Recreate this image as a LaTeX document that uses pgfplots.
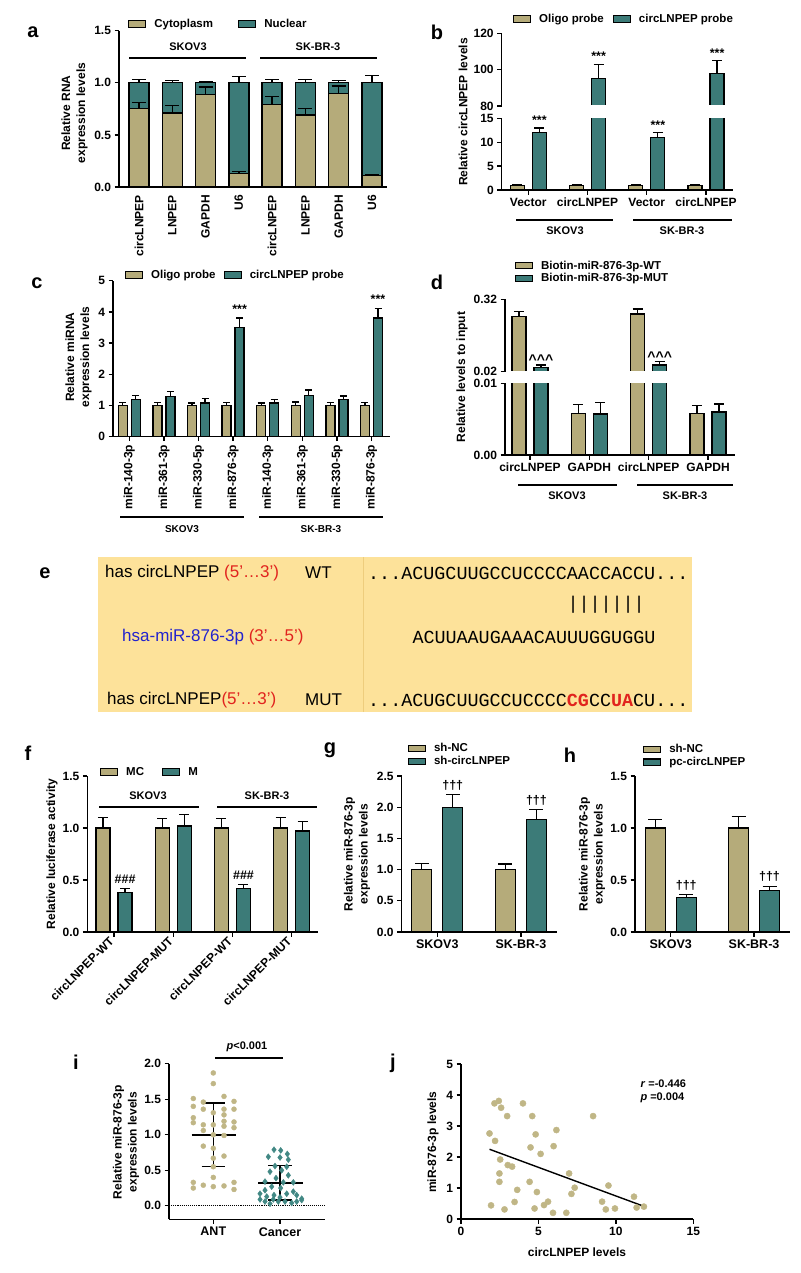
\documentclass[border=0pt]{standalone}
\usepackage{fontspec}
\setmainfont{Liberation Sans}
\newfontfamily\seqfont{Liberation Mono}
\usepackage{pgfplots}
\pgfplotsset{compat=1.18}

\definecolor{ctan}{RGB}{181,171,122}
\definecolor{cteal}{RGB}{60,123,120}
\definecolor{dtan}{RGB}{192,182,134}
\definecolor{dteal}{RGB}{66,136,132}
\definecolor{boxfill}{RGB}{253,226,154}
\definecolor{boxline}{RGB}{238,205,125}
\definecolor{sred}{RGB}{225,35,30}
\definecolor{sblue}{RGB}{35,35,205}

\newcommand{\tkf}{\bfseries\fontsize{12}{12}\selectfont}
\newcommand{\lgf}{\bfseries\fontsize{11.5}{12}\selectfont}
\newcommand{\lbf}{\bfseries\fontsize{12}{15}\selectfont}
\newcommand{\plf}{\bfseries\fontsize{20}{20}\selectfont}
\newcommand{\grf}{\bfseries\fontsize{11}{12}\selectfont}
\newcommand{\stf}{\bfseries\fontsize{12.5}{12}\selectfont}

\pgfplotsset{
  prism/.style={
    scale only axis, anchor=south west, axis lines=left,
    axis line style={-, line width=1.3pt, black},
    every outer x axis line/.append style={-},
    every outer y axis line/.append style={-},
    tick align=outside, major tick length=4.5pt,
    every tick/.append style={black, line width=1.3pt},
    tick label style={font=\tkf},
    scaled y ticks=false, scaled x ticks=false,
    legend style={draw=none, fill=none, font=\lgf, inner sep=0pt, outer sep=0pt,
      anchor=west, cells={anchor=west}, nodes={inner sep=0pt},
      /tikz/every odd column/.append style={column sep=8pt},
      /tikz/row sep=3pt},
    legend image code/.code={\draw[##1, draw=black, line width=1.2pt] (0pt,-3.2pt) rectangle (17pt,3.2pt);},
  },
  pbar/.style={ybar, bar shift=0pt, draw=black, line width=1.3pt,
    error bars/y dir=plus, error bars/y explicit,
    error bars/error bar style={line width=1.3pt, black},
    error bars/error mark options={rotate=90, line width=1.3pt, black, mark size=#1}},
}

\begin{document}
\begin{tikzpicture}
\path[use as bounding box] (0pt,0pt) rectangle (800pt,-1273pt);

% ---------------- panel a ----------------
\begin{axis}[prism, at={(119pt,-187pt)}, width=268pt, height=156.3pt,
  xmin=-0.6, xmax=7.45, ymin=0, ymax=1.5,
  ytick={0,0.5,1,1.5}, yticklabels={0.0,0.5,1.0,1.5},
  xtick={0,1,2,3,4,5,6,7},
  xticklabels={circLNPEP,LNPEP,GAPDH,U6,circLNPEP,LNPEP,GAPDH,U6},
  xticklabel style={rotate=90, anchor=east},
  xtick style={draw=none}, clip=false,
  legend columns=2,
  legend style={at={(axis description cs:0.034,1.043)},
    /tikz/every even column/.append style={column sep=25pt}}]
\addlegendimage{fill=ctan}\addlegendentry{Cytoplasm}
\addlegendimage{fill=cteal}\addlegendentry{Nuclear}
% stacked total (cytoplasm + nuclear = 1)
\addplot[pbar=7pt, bar width=20pt, fill=cteal, forget plot] coordinates {
 (0,1) +- (0,0.03) (1,1) +- (0,0.02) (2,1) +- (0,0.01) (3,1) +- (0,0.06)
 (4,1) +- (0,0.03) (5,1) +- (0,0.03) (6,1) +- (0,0.02) (7,1) +- (0,0.07)};
% cytoplasm fraction
\addplot[pbar=7pt, bar width=20pt, fill=ctan, forget plot] coordinates {
 (0,0.75) +- (0,0.06) (1,0.71) +- (0,0.07) (2,0.89) +- (0,0.07) (3,0.13) +- (0,0.02)
 (4,0.79) +- (0,0.08) (5,0.69) +- (0,0.06) (6,0.90) +- (0,0.07) (7,0.11) +- (0,0.01)};
\end{axis}

% ---------------- panel b (broken axis) ----------------
\begin{axis}[prism, at={(501.7pt,-106pt)}, width=231.3pt, height=72.7pt,
  xmin=-0.449, xmax=3.455, ymin=80, ymax=120,
  ytick={80,100,120}, yticklabels={80,100,120},
  axis x line=none, clip mode=individual,
  legend columns=2,
  legend style={at={(axis description cs:0.049,1.197)},
    /tikz/every even column/.append style={column sep=9pt}}]
\addlegendimage{fill=ctan}\addlegendentry{Oligo probe}
\addlegendimage{fill=cteal}\addlegendentry{circLNPEP probe}
\addplot[pbar=5pt, bar width=14pt, fill=cteal, forget plot] coordinates {
 (1.186,95) +- (0,8) (3.186,98) +- (0,7)};
\node[font=\stf, anchor=south] at (axis cs:1.186,103) {***};
\node[font=\stf, anchor=south] at (axis cs:3.186,105) {***};
\end{axis}
% axis break gap
\fill[white] (503.5pt,-105pt) rectangle (736pt,-117.6pt);
\begin{axis}[prism, at={(501.7pt,-190pt)}, width=231.3pt, height=71.7pt,
  xmin=-0.449, xmax=3.455, ymin=0, ymax=15,
  ytick={0,5,10,15}, yticklabels={0,5,10,15},
  xtick={0,1,2,3}, xticklabels={Vector,circLNPEP,Vector,circLNPEP},
  clip mode=individual]
\addplot[pbar=5pt, bar width=14pt, fill=ctan] coordinates {
 (-0.186,1) +- (0,0.15) (0.814,1) +- (0,0.15) (1.814,1) +- (0,0.15) (2.814,1) +- (0,0.15)};
\addplot[pbar=5pt, bar width=14pt, fill=cteal] coordinates {
 (0.186,12) +- (0,1) (1.186,95) +- (0,8) (2.186,11) +- (0,1) (3.186,98) +- (0,7)};
\node[font=\stf, anchor=south] at (axis cs:0.186,13) {***};
\node[font=\stf, anchor=south] at (axis cs:2.186,12) {***};
\end{axis}

% ---------------- panel c ----------------
\begin{axis}[prism, at={(113pt,-436.7pt)}, width=277pt, height=156pt,
  xmin=-0.471, xmax=7.535, ymin=0, ymax=5,
  ytick={0,1,2,3,4,5}, yticklabels={0,1,2,3,4,5},
  xtick={0,1,2,3,4,5,6,7},
  xticklabels={miR-140-3p,miR-361-3p,miR-330-5p,miR-876-3p,miR-140-3p,miR-361-3p,miR-330-5p,miR-876-3p},
  xticklabel style={rotate=90, anchor=east}, clip=false,
  legend columns=2,
  legend style={at={(axis description cs:0.043,1.037)},
    /tikz/every even column/.append style={column sep=8pt}}]
\addlegendimage{fill=ctan}\addlegendentry{Oligo probe}
\addlegendimage{fill=cteal}\addlegendentry{circLNPEP probe}
\addplot[pbar=3.5pt, bar width=9pt, fill=ctan, forget plot] coordinates {
 (-0.188,1) +- (0,0.1) (0.812,1) +- (0,0.09) (1.812,1) +- (0,0.08) (2.812,1) +- (0,0.09)
 (3.812,1) +- (0,0.08) (4.812,1) +- (0,0.11) (5.812,1) +- (0,0.09) (6.812,1) +- (0,0.09)};
\addplot[pbar=3.5pt, bar width=9pt, fill=cteal, forget plot] coordinates {
 (0.188,1.2) +- (0,0.13) (1.188,1.28) +- (0,0.17) (2.188,1.08) +- (0,0.14) (3.188,3.5) +- (0,0.3)
 (4.188,1.08) +- (0,0.12) (5.188,1.33) +- (0,0.17) (6.188,1.2) +- (0,0.1) (7.188,3.8) +- (0,0.3)};
\node[font=\stf, anchor=south] at (axis cs:3.188,3.85) {***};
\node[font=\stf, anchor=south] at (axis cs:7.188,4.15) {***};
\end{axis}

% ---------------- panel d (broken axis) ----------------
\begin{axis}[prism, at={(505pt,-371.7pt)}, width=230pt, height=72.4pt,
  xmin=-0.42, xmax=3.455, ymin=0.02, ymax=0.32,
  ytick={0.02,0.32}, yticklabels={0.02,0.32},
  axis x line=none, clip mode=individual,
  legend style={at={(axis description cs:0.043,1.377)}}]
\addlegendimage{fill=ctan}\addlegendentry{Biotin-miR-876-3p-WT}
\addlegendimage{fill=cteal}\addlegendentry{Biotin-miR-876-3p-MUT}
\addplot[pbar=5pt, bar width=14pt, fill=ctan, forget plot] coordinates {
 (-0.186,0.248) +- (0,0.021) (1.814,0.259) +- (0,0.021)};
\addplot[pbar=5pt, bar width=14pt, fill=cteal, forget plot] coordinates {
 (0.186,0.038) +- (0,0.0097) (2.186,0.0477) +- (0,0.0138)};
\node[font=\bfseries\fontsize{14}{14}\selectfont, anchor=south, yshift=-3pt] at (axis cs:0.186,0.0477) {\textasciicircum\textasciicircum\textasciicircum};
\node[font=\bfseries\fontsize{14}{14}\selectfont, anchor=south, yshift=-3pt] at (axis cs:2.186,0.0615) {\textasciicircum\textasciicircum\textasciicircum};
\end{axis}
\fill[white] (506.8pt,-370.8pt) rectangle (738pt,-382.6pt);
\begin{axis}[prism, at={(505pt,-455pt)}, width=230pt, height=71.7pt,
  xmin=-0.42, xmax=3.455, ymin=0, ymax=0.01,
  ytick={0,0.01}, yticklabels={0.00,0.01},
  xtick={0,1,2,3}, xticklabels={circLNPEP,GAPDH,circLNPEP,GAPDH},
  clip mode=individual]
\addplot[pbar=5pt, bar width=14pt, fill=ctan] coordinates {
 (-0.186,0.248) +- (0,0.021) (0.814,0.0058) +- (0,0.0012) (1.814,0.259) +- (0,0.021) (2.814,0.0058) +- (0,0.0011)};
\addplot[pbar=5pt, bar width=14pt, fill=cteal] coordinates {
 (0.186,0.038) +- (0,0.0097) (1.186,0.0057) +- (0,0.0016) (2.186,0.0477) +- (0,0.0138) (3.186,0.006) +- (0,0.0011)};
\end{axis}

% ---------------- panel f ----------------
\begin{axis}[prism, at={(87.3pt,-932pt)}, width=230.7pt, height=156pt,
  xmin=-0.451, xmax=3.444, ymin=0, ymax=1.5,
  ytick={0,0.5,1,1.5}, yticklabels={0.0,0.5,1.0,1.5},
  xtick={0,1,2,3}, xticklabels={circLNPEP-WT,circLNPEP-MUT,circLNPEP-WT,circLNPEP-MUT},
  xticklabel style={rotate=45, anchor=east}, clip=false,
  legend columns=2,
  legend style={at={(axis description cs:0.055,1.026)},
    /tikz/every even column/.append style={column sep=18pt}}]
\addlegendimage{fill=ctan}\addlegendentry{MC}
\addlegendimage{fill=cteal}\addlegendentry{M}
\addplot[pbar=5pt, bar width=14pt, fill=ctan, forget plot] coordinates {
 (-0.186,1) +- (0,0.1) (0.814,1) +- (0,0.09) (1.814,1) +- (0,0.09) (2.814,1) +- (0,0.1)};
\addplot[pbar=5pt, bar width=14pt, fill=cteal, forget plot] coordinates {
 (0.186,0.38) +- (0,0.04) (1.186,1.02) +- (0,0.11) (2.186,0.42) +- (0,0.04) (3.186,0.97) +- (0,0.09)};
\node[font=\stf, anchor=south] at (axis cs:0.186,0.43) {\#\#\#};
\node[font=\stf, anchor=south] at (axis cs:2.186,0.47) {\#\#\#};
\end{axis}

% ---------------- panel g ----------------
\begin{axis}[prism, at={(401.7pt,-932pt)}, width=155pt, height=156pt,
  xmin=-0.425, xmax=1.427, ymin=0, ymax=2.5,
  ytick={0,0.5,1,1.5,2,2.5}, yticklabels={0.0,0.5,1.0,1.5,2.0,2.5},
  xtick={0,1}, xticklabels={SKOV3,SK-BR-3},
  xticklabel style={font=\bfseries\fontsize{12.5}{12.5}\selectfont},
  clip=false,
  legend style={at={(axis description cs:0.04,1.135)}}]
\addlegendimage{fill=ctan}\addlegendentry{sh-NC}
\addlegendimage{fill=cteal}\addlegendentry{sh-circLNPEP}
\addplot[pbar=7pt, bar width=20pt, fill=ctan, forget plot] coordinates {
 (-0.185,1) +- (0,0.1) (0.815,1) +- (0,0.09)};
\addplot[pbar=7pt, bar width=20pt, fill=cteal, forget plot] coordinates {
 (0.185,2.0) +- (0,0.2) (1.185,1.8) +- (0,0.16)};
\node[font=\stf, anchor=south] at (axis cs:0.185,2.22) {†††};
\node[font=\stf, anchor=south] at (axis cs:1.185,1.98) {†††};
\end{axis}

% ---------------- panel h ----------------
\begin{axis}[prism, at={(635pt,-932pt)}, width=155pt, height=156pt,
  xmin=-0.429, xmax=1.432, ymin=0, ymax=1.5,
  ytick={0,0.5,1,1.5}, yticklabels={0.0,0.5,1.0,1.5},
  xtick={0,1}, xticklabels={SKOV3,SK-BR-3},
  xticklabel style={font=\bfseries\fontsize{12.5}{12.5}\selectfont},
  clip=false,
  legend style={at={(axis description cs:0.052,1.13)}}]
\addlegendimage{fill=ctan}\addlegendentry{sh-NC}
\addlegendimage{fill=cteal}\addlegendentry{pc-circLNPEP}
\addplot[pbar=7pt, bar width=20pt, fill=ctan, forget plot] coordinates {
 (-0.186,1) +- (0,0.08) (0.814,1) +- (0,0.11)};
\addplot[pbar=7pt, bar width=20pt, fill=cteal, forget plot] coordinates {
 (0.186,0.33) +- (0,0.03) (1.186,0.40) +- (0,0.04)};
\node[font=\stf, anchor=south] at (axis cs:0.186,0.37) {†††};
\node[font=\stf, anchor=south] at (axis cs:1.186,0.45) {†††};
\end{axis}

% ---------------- panel i ----------------
\begin{axis}[prism, at={(169pt,-1219.3pt)}, width=156pt, height=155.6pt,
  xmin=0, xmax=156, ymin=-0.19, ymax=2.0,
  ytick={0,0.5,1,1.5,2}, yticklabels={0.0,0.5,1.0,1.5,2.0},
  xtick={44.3,111}, xticklabels={ANT,Cancer},
  xticklabel style={font=\bfseries\fontsize{12.5}{12.5}\selectfont},
  clip=false]
\addplot[densely dotted, line width=1.1pt, black] coordinates {(0,0) (156,0)};
\addplot[only marks, mark=*, mark size=2.5pt, mark options={draw=dtan, fill=dtan}] coordinates {
 (44.3,1.87) (44.3,1.72) (24.3,1.51) (55,1.54) (65,1.47) (24.3,1.40) (34.3,1.36) (65,1.36)
 (44.3,1.31) (55,1.28) (24.3,1.24) (24.3,1.17) (65,1.18) (55,1.19) (34.3,1.14) (44.3,1.14)
 (55,1.12) (65,1.10) (34.3,1.06) (44.3,1.0) (55,0.99) (34.3,0.84) (44.3,0.81) (55,0.70)
 (44.3,0.67) (44.3,0.55) (44.3,0.40) (24.3,0.33) (24.3,0.25) (34.3,0.29) (44.3,0.27)
 (55,0.28) (65,0.33) (65,0.23) (34.3,1.46) (55,1.36)};
\addplot[only marks, mark=diamond*, mark size=3pt, mark options={draw=dteal, fill=dteal}] coordinates {
 (105,0.79) (111.7,0.78) (118.3,0.73) (99.3,0.69) (111,0.68) (119.3,0.65) (106,0.56)
 (117.7,0.55) (101,0.48) (112.7,0.50) (119.3,0.43) (107,0.39) (96,0.34) (114.3,0.33)
 (124.3,0.33) (102.7,0.27) (111.7,0.25) (91,0.17) (97.7,0.13) (105,0.15) (117.7,0.17)
 (127.7,0.15) (132.7,0.10) (91,0.09) (96,0.06) (104.3,0.09) (109.3,0.06) (116,0.06)
 (122.7,0.04) (127.7,0.06) (132.7,0.08) (101,0.03) (124.3,0.20) (111,0.12) (96,0.22)};
% mean and SD
\addplot[black, line width=1.5pt] coordinates {(22.7,1.0) (67,1.0)};
\addplot[black, line width=1.5pt] coordinates {(44.3,0.55) (44.3,1.45)};
\addplot[black, line width=1.5pt] coordinates {(32.7,1.45) (56,1.45)};
\addplot[black, line width=1.5pt] coordinates {(32.7,0.55) (56,0.55)};
\addplot[black, line width=1.5pt] coordinates {(89,0.32) (134,0.32)};
\addplot[black, line width=1.5pt] coordinates {(111,0.08) (111,0.57)};
\addplot[black, line width=1.5pt] coordinates {(99,0.57) (122.7,0.57)};
\addplot[black, line width=1.5pt] coordinates {(99,0.08) (122.7,0.08)};
\end{axis}

% ---------------- panel j ----------------
\begin{axis}[prism, at={(461pt,-1219pt)}, width=232.3pt, height=155pt,
  xmin=0, xmax=15, ymin=0, ymax=5,
  ytick={0,1,2,3,4,5}, yticklabels={0,1,2,3,4,5},
  xtick={0,5,10,15}, xticklabels={0,5,10,15},
  clip=false]
\addplot[only marks, mark=*, mark size=3.1pt, mark options={draw=dtan, fill=dtan}] coordinates {
 (1.84,2.76) (2.16,3.73) (2.44,3.81) (2.59,3.59) (2.98,3.32) (4.0,3.73) (4.6,3.32)
 (8.53,3.32) (6.16,2.87) (4.82,2.73) (2.2,2.52) (5.98,2.35) (4.49,2.31) (5.14,2.10)
 (2.53,1.92) (3.02,1.74) (3.3,1.69) (2.48,1.47) (6.98,1.47) (2.48,1.20) (4.43,1.20)
 (9.52,1.08) (7.34,1.01) (3.63,0.94) (4.9,0.87) (7.13,0.81) (11.17,0.72) (1.94,0.44)
 (3.46,0.55) (5.36,0.45) (5.62,0.56) (9.11,0.56) (2.81,0.31) (4.75,0.34) (5.94,0.20)
 (6.8,0.20) (9.35,0.31) (9.94,0.34) (11.34,0.37) (11.81,0.40)};
\addplot[black, line width=1.4pt] coordinates {(1.84,2.25) (11.7,0.43)};
\end{axis}

% ---------------- annotations ----------------
\tikzset{grl/.style={line width=1.3pt, black}}
% panel letters
\node[font=\plf] at (33pt,-32pt) {a};
\node[font=\plf] at (437pt,-32pt) {b};
\node[font=\plf] at (37pt,-283pt) {c};
\node[font=\plf] at (437pt,-282pt) {d};
\node[font=\plf] at (45pt,-573pt) {e};
\node[font=\plf] at (28pt,-753pt) {f};
\node[font=\plf] at (330pt,-750pt) {g};
\node[font=\plf] at (570pt,-755pt) {h};
\node[font=\plf] at (76pt,-1062pt) {i};
\node[font=\plf] at (393pt,-1063pt) {j};

% y labels
\node[font=\lbf, rotate=90, align=center] at (74.5pt,-113pt) {Relative RNA\\expression levels};
\node[font=\lbf, rotate=90] at (463pt,-112pt) {Relative circLNPEP levels};
\node[font=\lbf, rotate=90, align=center] at (78.5pt,-357pt) {Relative miRNA\\expression levels};
\node[font=\lbf, rotate=90] at (462pt,-377pt) {Relative levels to input};
\node[font=\lbf, rotate=90] at (52pt,-854pt) {Relative luciferase activity};
\node[font=\lbf, rotate=90, align=center] at (357pt,-854pt) {Relative miR-876-3p\\expression levels};
\node[font=\lbf, rotate=90, align=center] at (592pt,-854pt) {Relative miR-876-3p\\expression levels};
\node[font=\lbf, rotate=90, align=center] at (126pt,-1142pt) {Relative miR-876-3p\\expression levels};
\node[font=\lbf, rotate=90] at (433pt,-1142pt) {miR-876-3p levels};
\node[font=\lbf] at (577pt,-1252pt) {circLNPEP levels};

% group lines and labels
\draw[grl] (129pt,-58pt) -- (246pt,-58pt);
\draw[grl] (260pt,-58pt) -- (377pt,-58pt);
\node[font=\grf] at (188pt,-47pt) {SKOV3};
\node[font=\grf] at (318pt,-47pt) {SK-BR-3};

\draw[grl] (516pt,-220pt) -- (613pt,-220pt);
\draw[grl] (633pt,-220pt) -- (732pt,-220pt);
\node[font=\grf] at (565pt,-231pt) {SKOV3};
\node[font=\grf] at (682pt,-231pt) {SK-BR-3};

\draw[grl] (120pt,-517pt) -- (244pt,-517pt);
\draw[grl] (259pt,-517pt) -- (383pt,-517pt);
\node[font=\bfseries\fontsize{10}{10}\selectfont] at (182pt,-529pt) {SKOV3};
\node[font=\bfseries\fontsize{10}{10}\selectfont] at (321pt,-529pt) {SK-BR-3};

\draw[grl] (518pt,-485pt) -- (617pt,-485pt);
\draw[grl] (637pt,-485pt) -- (733pt,-485pt);
\node[font=\grf] at (567pt,-496pt) {SKOV3};
\node[font=\grf] at (685pt,-496pt) {SK-BR-3};

\draw[grl] (99pt,-807pt) -- (199pt,-807pt);
\draw[grl] (217pt,-807pt) -- (317pt,-807pt);
\node[font=\grf] at (148pt,-796pt) {SKOV3};
\node[font=\grf] at (267pt,-796pt) {SK-BR-3};

% panel i p-value
\draw[grl] (215pt,-1058pt) -- (283pt,-1058pt);
\node[font=\grf] at (247pt,-1047pt) {\textit{p}<0.001};

% panel j statistics
\node[font=\grf, anchor=west] at (637pt,-1084pt) {\textit{r} =-0.446};
\node[font=\grf, anchor=west] at (637pt,-1098pt) {\textit{p} =0.004};

% ---------------- panel e ----------------
\fill[boxfill] (98pt,-557pt) rectangle (692pt,-712pt);
\draw[boxline, line width=0.8pt] (363pt,-557pt) -- (363pt,-712pt);
\begin{scope}[every node/.style={inner sep=0pt, anchor=west}]
\node[font=\fontsize{17}{17}\selectfont] at (105pt,-573pt) {has circLNPEP {\color{sred}(5’…3’)}};
\node[font=\fontsize{17}{17}\selectfont] at (305pt,-573pt) {WT};
\node[font=\seqfont\fontsize{18.4}{18.4}\selectfont] at (368pt,-573pt) {...ACUGCUUGCCUCCCCAACCACCU...};
\node[font=\seqfont\fontsize{18.4}{18.4}\selectfont] at (567.3pt,-605pt) {|||||||};
\node[font=\fontsize{17}{17}\selectfont] at (122pt,-637pt) {{\color{sblue}hsa-miR-876-3p} {\color{sred}(3’…5’)}};
\node[font=\seqfont\fontsize{18.4}{18.4}\selectfont] at (412.3pt,-637pt) {ACUUAAUGAAACAUUUGGUGGU};
\node[font=\fontsize{17}{17}\selectfont] at (107pt,-700pt) {has circLNPEP{\color{sred}(5’…3’)}};
\node[font=\fontsize{17}{17}\selectfont] at (305pt,-700pt) {MUT};
\node[font=\seqfont\fontsize{18.4}{18.4}\selectfont] at (368pt,-700pt) {...ACUGCUUGCCUCCCC{\color{sred}\bfseries CG}CC{\color{sred}\bfseries UA}CU...};
\end{scope}
\end{tikzpicture}
\end{document}
